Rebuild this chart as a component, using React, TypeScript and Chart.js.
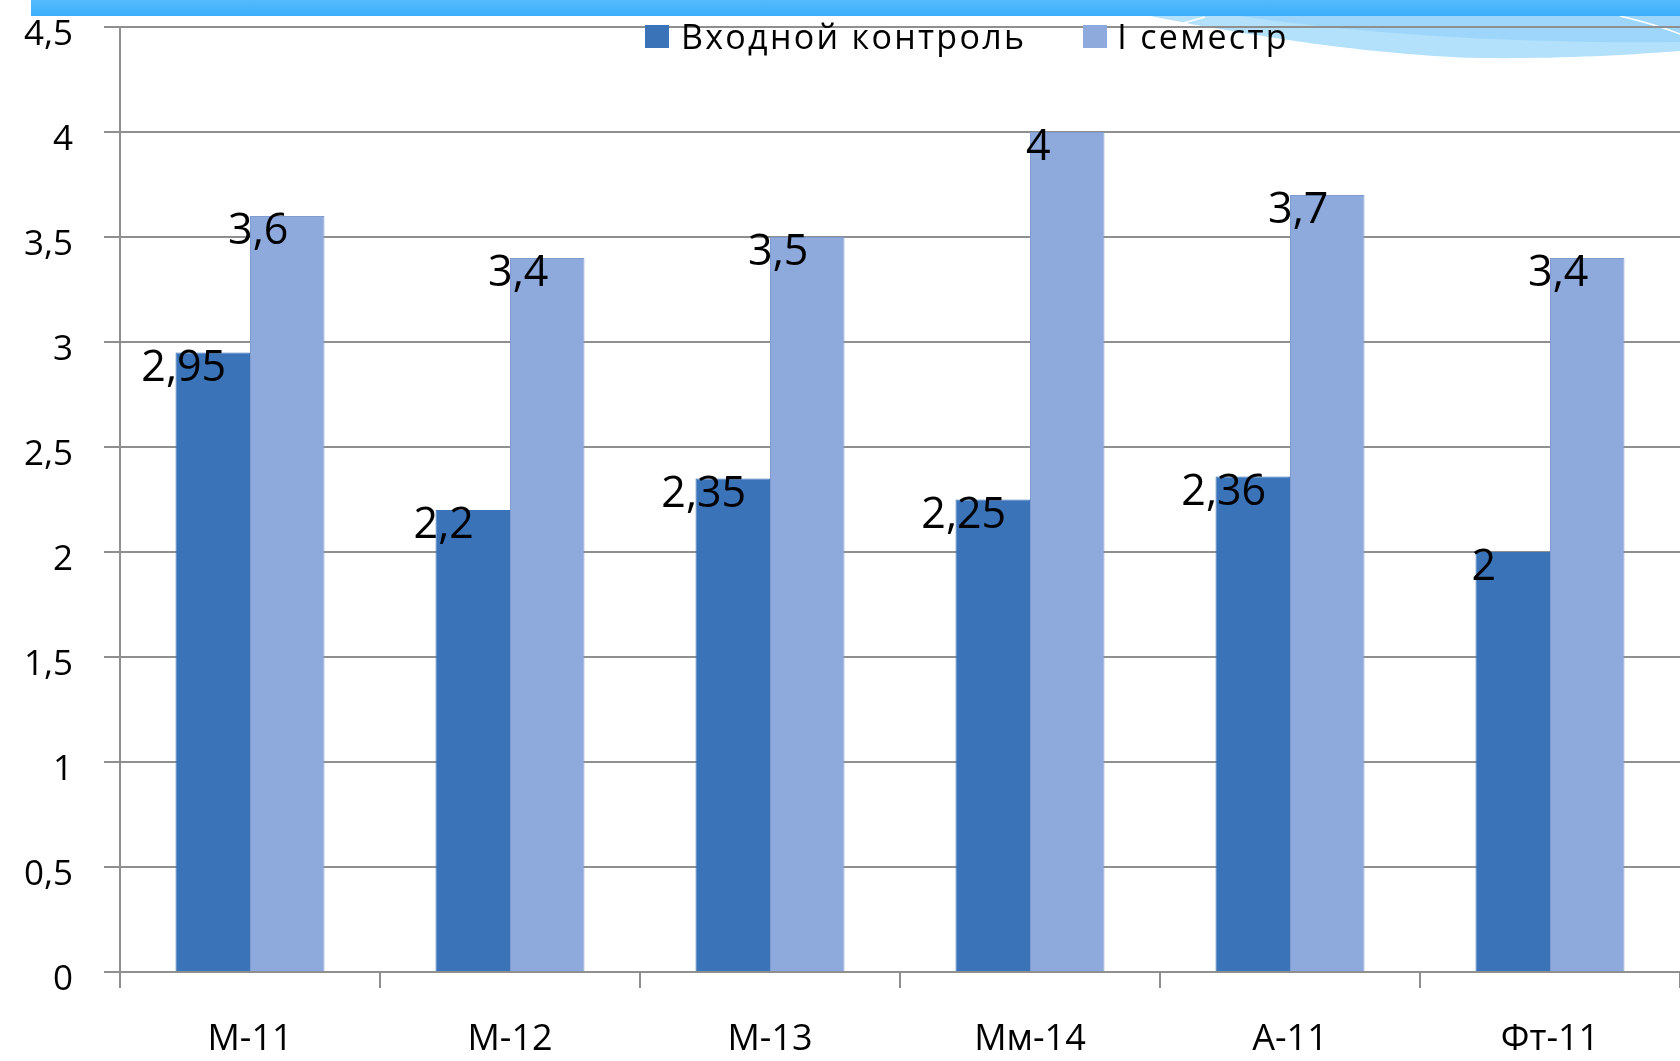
import React, { useEffect, useRef } from "react";
import { Chart, registerables } from "chart.js";

Chart.register(...registerables);

const categories = ["М-11", "М-12", "М-13", "Мм-14", "А-11", "Фт-11"];
const seriesNames = ["Входной контроль", "I семестр"];
const entryControl = [2.95, 2.2, 2.35, 2.25, 2.36, 2];
const firstSemester = [3.6, 3.4, 3.5, 4, 3.7, 3.4];
const yTickValues = [0, 0.5, 1, 1.5, 2, 2.5, 3, 3.5, 4, 4.5];
const seriesColors = ["#3b73b9", "#8eaadc"];
const seriesBorders = ["#3b73b9", "#7f9bcf"];

const GRID = "#8f8f8f";
const FONT = "'Open Sans', 'Noto Sans', sans-serif";

const fmt = (v: number) => String(v).replace(".", ",");

const valueLabels = {
  id: "valueLabels",
  afterDatasetsDraw(chart: any) {
    const ctx = chart.ctx;
    ctx.save();
    ctx.font = `43px ${FONT}`;
    ctx.fillStyle = "#000";
    ctx.textAlign = "center";
    ctx.textBaseline = "middle";
    chart.data.datasets.forEach((ds: any, i: number) => {
      const meta = chart.getDatasetMeta(i);
      meta.data.forEach((el: any, j: number) => {
        ctx.fillText(fmt(ds.data[j]), el.x - 29, el.y + 16);
      });
    });
    ctx.restore();
  },
};

function ChartCanvas() {
  const ref = useRef<HTMLCanvasElement | null>(null);
  useEffect(() => {
    if (!ref.current) return;
    const chart = new Chart(ref.current, {
      type: "bar",
      data: {
        labels: categories,
        datasets: [
          {
            label: seriesNames[0],
            data: entryControl,
            backgroundColor: seriesColors[0],
            borderColor: seriesBorders[0],
            borderWidth: 1,
          },
          {
            label: seriesNames[1],
            data: firstSemester,
            backgroundColor: seriesColors[1],
            borderColor: seriesBorders[1],
            borderWidth: 1,
          },
        ],
      },
      options: {
        responsive: false,
        animation: false,
        devicePixelRatio: 1,
        layout: { autoPadding: false, padding: { top: 27, left: 0, right: 0, bottom: 0 } },
        datasets: { bar: { barPercentage: 1, categoryPercentage: 0.573 } },
        plugins: {
          legend: { display: false },
          tooltip: { enabled: false },
          title: { display: false },
        },
        scales: {
          x: {
            grid: {
              display: true,
              drawOnChartArea: false,
              drawTicks: true,
              tickLength: 16,
              color: GRID,
              lineWidth: 2,
              offset: true,
            },
            border: { display: true, color: GRID, width: 2 },
            ticks: { font: { family: FONT, size: 36 }, color: "#000", padding: 30 },
            afterFit: (s: any) => {
              s.height = 89;
              s.paddingLeft = 0;
              s.paddingRight = 0;
            },
          },
          y: {
            min: 0,
            max: 4.5,
            afterBuildTicks: (s: any) => {
              s.ticks = yTickValues.map((v) => ({ value: v }));
            },
            ticks: {
              callback: (v: any) => fmt(Number(v)),
              font: { family: FONT, size: 35 },
              color: "#000",
              padding: 31,
              labelOffset: 8,
            },
            grid: { color: GRID, lineWidth: 2, tickLength: 16, drawTicks: true },
            border: { display: true, color: GRID, width: 2 },
            afterFit: (s: any) => {
              s.width = 120;
              s.paddingTop = 0;
              s.paddingBottom = 0;
            },
          },
        },
      },
      plugins: [valueLabels],
    });
    return () => chart.destroy();
  }, []);
  return (
    <canvas
      ref={ref}
      width={1680}
      height={1061}
      style={{ position: "absolute", left: 0, top: 0, width: 1680, height: 1061, display: "block" }}
    />
  );
}

export default function App() {
  const legendText: React.CSSProperties = {
    fontFamily: FONT,
    fontSize: 34,
    color: "#000",
    lineHeight: "34px",
    letterSpacing: 2.3,
    whiteSpace: "nowrap",
  };
  return (
    <div
      style={{
        position: "absolute",
        left: 0,
        top: 0,
        width: 1680,
        height: 1061,
        overflow: "hidden",
        background: "#fff",
      }}
    >
      <svg width={1680} height={1061} style={{ position: "absolute", left: 0, top: 0 }}>
        <defs>
          <linearGradient id="band" x1="0" y1="0" x2="0" y2="1">
            <stop offset="0" stopColor="#55bbfb" />
            <stop offset="1" stopColor="#3badfa" />
          </linearGradient>
        </defs>
        <path
          d="M1150 16 C 1250 36, 1380 56, 1480 58 C 1570 59, 1640 54, 1680 51 L 1680 16 Z"
          fill="#b3e1fc"
        />
        <path
          d="M1240 16 C 1360 34, 1520 44, 1680 42 L 1680 16 Z"
          fill="#9dd6fa"
        />
        <path d="M1180 24 L 1205 17" stroke="#ffffff" strokeWidth={1.5} fill="none" />
        <path d="M1620 16 C 1645 22, 1665 28, 1680 34" stroke="#ffffff" strokeWidth={1.5} fill="none" />
        <rect x={31} y={0} width={1649} height={16} fill="url(#band)" />
      </svg>
      <ChartCanvas />
      <div
        style={{
          position: "absolute",
          left: 645,
          top: 19,
          display: "flex",
          alignItems: "center",
          height: 34,
        }}
      >
        <div style={{ width: 24, height: 23, background: seriesColors[0], marginRight: 12 }} />
        <div style={legendText}>{seriesNames[0]}</div>
        <div
          style={{
            width: 24,
            height: 23,
            background: seriesColors[1],
            marginLeft: 57,
            marginRight: 10,
          }}
        />
        <div style={legendText}>{seriesNames[1]}</div>
      </div>
    </div>
  );
}
